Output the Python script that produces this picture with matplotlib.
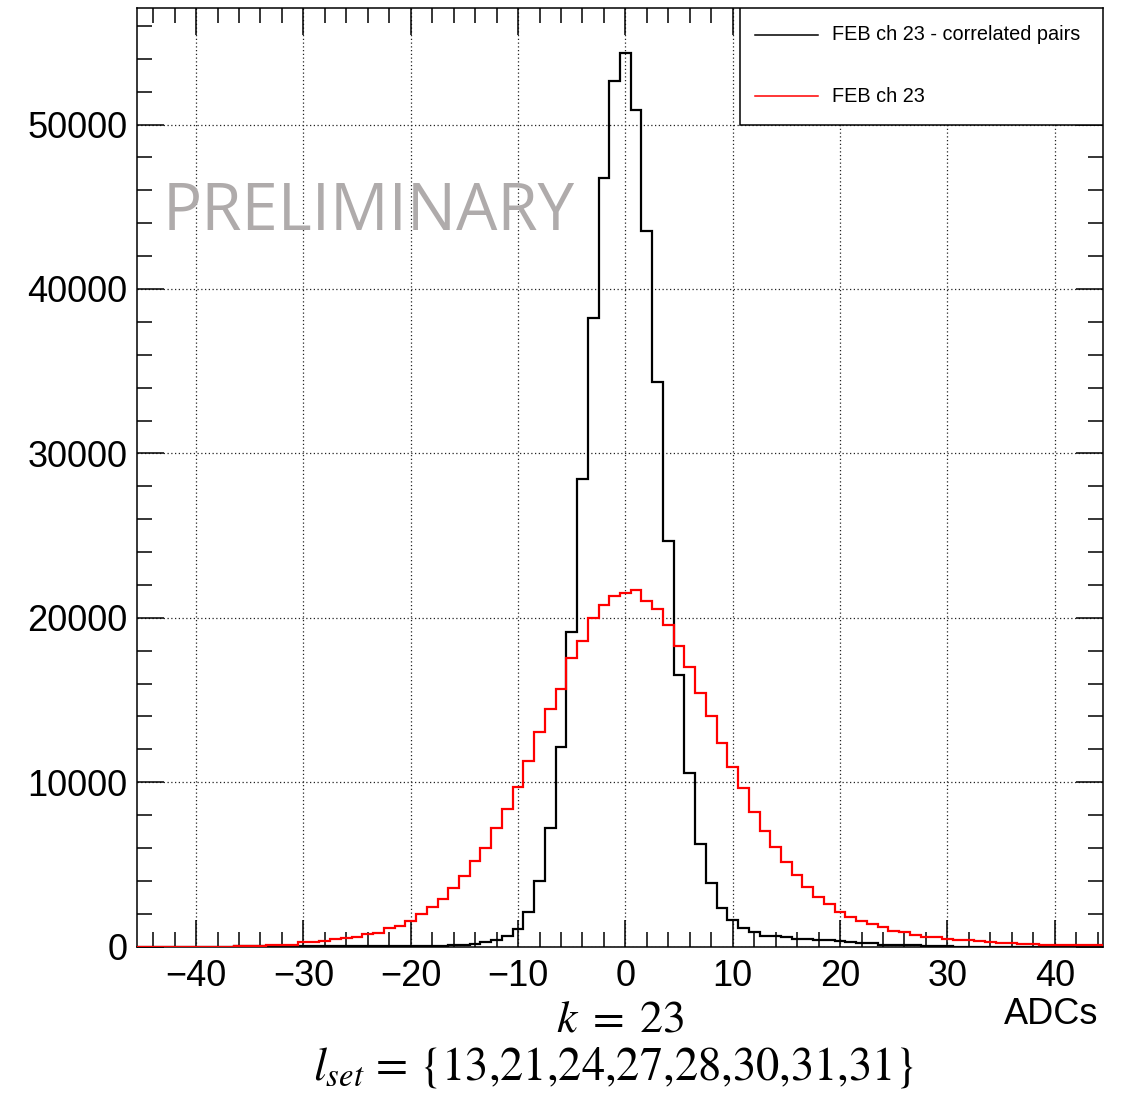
import numpy as np
import matplotlib
matplotlib.use("Agg")
import matplotlib.pyplot as plt
from matplotlib.patches import Rectangle
from matplotlib.lines import Line2D

plt.rcParams['font.family'] = ['Liberation Sans', 'DejaVu Sans']
plt.rcParams['mathtext.fontset'] = 'stix'

# ---------------- data ----------------
bin_lo = -45.5
bin_hi = 44.5
bin_centers = list(range(-45, 45))  # integer ADC values

# FEB ch 23 - correlated pairs (black)
corr_counts = (
    [0] * 9 +                                              # -45..-37
    [20, 20, 25, 25, 30, 30, 30, 35, 35, 40, 30, 35, 50, 55, 60, 65] +  # -36..-21
    [50, 55, 60, 70, 80, 90] +                             # -20..-15
    [175, 280, 380, 660, 1070, 2080, 4000, 7205, 12165, 19110,  # -14..-5
     28470, 38226, 46730, 52625, 54370, 50890, 43510, 34340, 24700,  # -4..4
     16520, 10545, 6250, 3900, 2345, 1635, 1130, 890, 680, 680,  # 5..14
     580, 460, 460, 380, 380, 320, 260, 220, 220, 130,  # 15..24
     130, 130, 120, 70, 70, 60] +                          # 25..30
    [0] * 14                                               # 31..44
)

# FEB ch 23 (red)
ch_counts = (
    [0] * 9 +                                              # -45..-37
    [40, 50, 60, 80, 120, 130, 260, 280, 350, 440, 520, 580,  # -36..-25
     780, 860, 1150, 1270, 1590, 2000, 2400, 2890, 3560, 4320,  # -24..-15
     5200, 5990, 7205, 8360, 9735, 11295, 13040, 14435, 15650, 17530,  # -14..-5
     18580, 19960, 20770, 21320, 21520, 21680, 21030, 20510, 19560,  # -4..4
     18300, 16990, 15440, 14030, 12410, 10950, 9635, 8180, 7040, 6090,  # 5..14
     5180, 4370, 3660, 3050, 2610, 2120, 1835, 1590, 1390, 1190,  # 15..24
     985, 865, 740, 620, 580, 460, 380, 380, 340, 300,  # 25..34
     220, 220, 140, 140, 90, 90, 90, 90, 90, 90]           # 35..44
)

series_labels = ["FEB ch 23 - correlated pairs", "FEB ch 23"]
xticks = [-40, -30, -20, -10, 0, 10, 20, 30, 40]
yticks = [0, 10000, 20000, 30000, 40000, 50000]

# ---------------- figure ----------------
W, H = 1122, 1095
fig = plt.figure(figsize=(W / 100, H / 100), dpi=100)
ax = fig.add_axes([137 / W, 1 - 946.7 / H, (1103 - 137) / W, (946.7 - 8) / H])

edges = np.arange(bin_lo, bin_hi + 1, 1.0)
ax.stairs(np.array(corr_counts, float), edges, color='black', lw=1.6, baseline=None, zorder=3)
ax.stairs(np.array(ch_counts, float), edges, color='#ff0000', lw=1.6, baseline=None, zorder=4)

ax.set_xlim(bin_lo, bin_hi)
ax.set_ylim(0, 1.05 * max(corr_counts))

ax.set_xticks(xticks)
ax.set_xticklabels([f"{v}".replace('-', '\u2212') for v in xticks])
ax.set_xticks(np.arange(-44, 45, 2), minor=True)
ax.set_yticks(yticks)
ax.set_yticklabels([str(v) for v in yticks])
ax.set_yticks(np.arange(0, 57000, 2000), minor=True)

ax.tick_params(which='both', direction='in', top=True, right=True, width=1.1, colors='black')
ax.tick_params(which='major', length=19.5, labelsize=26)
ax.tick_params(which='minor', length=10.5)
ax.tick_params(axis='x', which='major', pad=9)
ax.tick_params(axis='y', which='major', pad=7)
for s in ax.spines.values():
    s.set_linewidth(1.1)

ax.grid(True, which='major', color='#222222', linestyle=(0, (1, 2)), lw=0.9)
ax.set_axisbelow(True)

# legend box (ROOT style)
legend_x0 = (740 - 137) / (1103 - 137)
legend_y0 = (946.7 - 125) / (946.7 - 8)
ax.add_patch(Rectangle((legend_x0, legend_y0), 1 - legend_x0, 1 - legend_y0,
                       transform=ax.transAxes, facecolor='white', edgecolor='black',
                       lw=1.1, zorder=10))
def ax_frac_x(px):
    return (px - 137) / (1103 - 137)
def ax_frac_y(py):
    return (946.7 - py) / (946.7 - 8)
for label, col, py in zip(series_labels, ['black', '#ff0000'], [35, 96]):
    ax.add_line(Line2D([ax_frac_x(755), ax_frac_x(818)], [ax_frac_y(py)] * 2,
                       transform=ax.transAxes, color=col, lw=1.1, zorder=11))
    ax.text(ax_frac_x(832), ax_frac_y(py), label, transform=ax.transAxes,
            fontsize=14.3, va='center', ha='left', zorder=11)

# PRELIMINARY watermark
fig.text(163 / W, 1 - 230 / H, "PRELIMINARY", fontsize=47, color='#afabab',
         family=['Open Sans', 'DejaVu Sans'], ha='left', va='baseline', zorder=20)

# axis title
fig.text(1098 / W, 1 - 1015 / H, "ADCs", fontsize=26, ha='right', va='center')

# bottom annotations
fig.text(620 / W, 1 - 1020 / H, r"$k\;=\;23$", fontsize=33, ha='center', va='center')
fig.text(614 / W, 1 - 1068 / H, r"$l_{set}$ = {13,21,24,27,28,30,31,31}", fontsize=33.5,
         family='STIXGeneral', ha='center', va='center')

fig.savefig("out.png", dpi=100)
